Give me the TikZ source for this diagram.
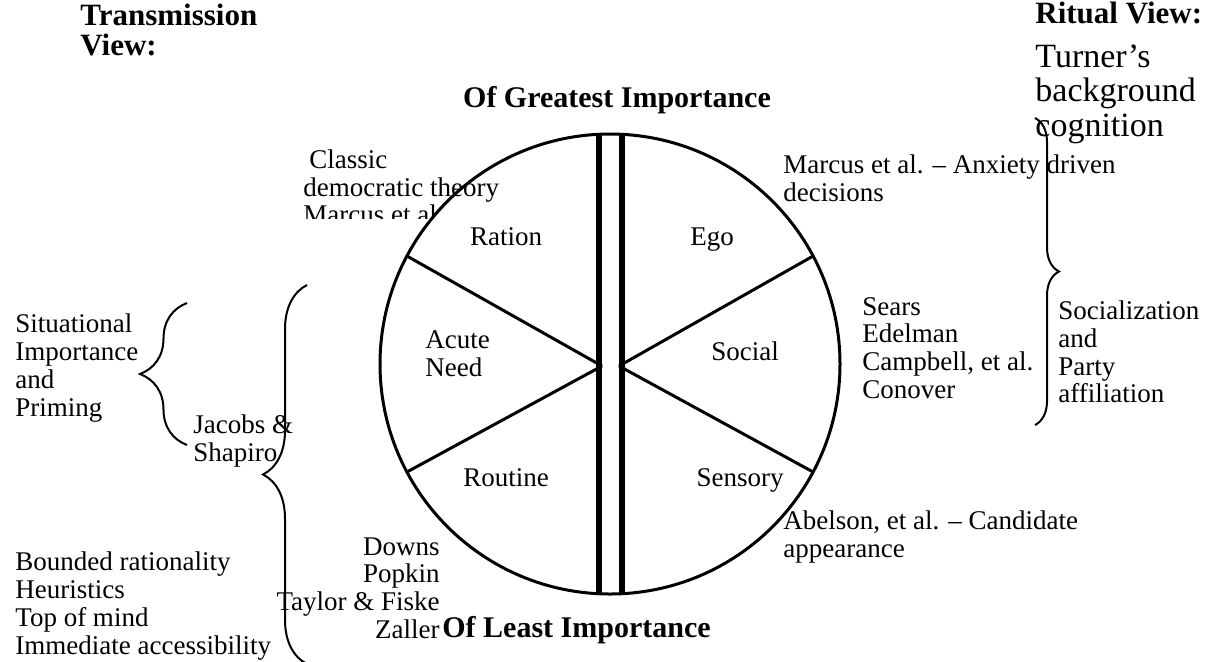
\documentclass[tikz,border=0pt]{standalone}
\usepackage{fontspec}
\setmainfont{Liberation Serif}
\usetikzlibrary{decorations.pathreplacing}
\tikzstyle{txt}=[inner sep=0pt,align=left,font=\fontsize{13.5}{13.9}\selectfont]
\tikzstyle{rtxt}=[inner sep=0pt,align=right,font=\fontsize{13.5}{13.9}\selectfont]
\tikzstyle{head}=[inner sep=0pt,align=left,font=\bfseries\fontsize{15.5}{15}\selectfont]
\tikzstyle{pole}=[inner sep=0pt,font=\bfseries\fontsize{15}{15}\selectfont]
\tikzstyle{bigtxt}=[inner sep=0pt,align=left,font=\fontsize{17}{17.3}\selectfont]
\tikzstyle{pie}=[circle,draw=black,line width=1.5pt,inner sep=0pt,outer sep=0pt,
  minimum size=230pt]
\tikzstyle{bar}=[line width=3.2pt]
\tikzstyle{spoke}=[line width=1.5pt]
\tikzstyle{brc}=[decorate,line width=1pt]
\tikzstyle{none}=[]

\begin{document}
\begin{tikzpicture}[x=0.5pt, y=-0.5pt]
            \useasboundingbox (0, 0) rectangle (1229, 661);
            \node [style=pie] (0) at (610, 364) {};
            \coordinate (1) at (599, 134);
            \coordinate (2) at (599, 594);
            \coordinate (3) at (622, 134);
            \coordinate (4) at (622, 594);
            \coordinate (5) at (602, 366);
            \coordinate (6) at (619, 366);
            \draw [style=bar] (1) to (2);
            \draw [style=bar] (3) to (4);
            \draw [style=spoke] (5) to (0.152);
            \draw [style=spoke] (5) to (0.208);
            \draw [style=spoke] (6) to (0.28);
            \draw [style=spoke] (6) to (0.332);
            % braces
            \coordinate (7) at (187, 445);
            \coordinate (8) at (187, 303);
            \coordinate (9) at (307, 664);
            \coordinate (10) at (307, 285);
            \coordinate (11) at (1035, 118);
            \coordinate (12) at (1035, 425);
            \draw [style=brc, decoration={brace, amplitude=23.5pt}] (7) to (8);
            \draw [style=brc, decoration={brace, amplitude=22pt}] (9) to (10);
            \draw [style=brc, decoration={brace, amplitude=12pt}] (11) to (12);
            % labels
            \node [style=head, anchor=west] (13) at (80, 30) {Transmission\\View:};
            \node [style=head, anchor=west] (14) at (1035, 13) {Ritual View:};
            \node [style=bigtxt, anchor=west] (15) at (1035, 94) {Turner’s\\background\\cognition};
            \node [style=pole] (16) at (617, 100) {Of Greatest Importance};
            \begin{scope}
                \clip (290, 140) rectangle (520, 218);
                \node [style=txt, anchor=west] (17) at (303, 187) {\hspace*{3pt}Classic\\democratic theory\\Marcus et al.};
            \end{scope}
            \node [style=txt, anchor=base] (18) at (506, 245) {Ration};
            \node [style=txt, anchor=base] (19) at (712, 245) {Ego};
            \node [style=txt, anchor=west] (20) at (425, 354) {Acute\\Need};
            \node [style=txt, anchor=base] (21) at (745, 360) {Social};
            \node [style=txt, anchor=base] (22) at (506, 486) {Routine};
            \node [style=txt, anchor=base] (23) at (740, 486) {Sensory};
            \node [style=txt, anchor=west] (24) at (783, 178) {Marcus et al. – Anxiety driven\\decisions};
            \node [style=txt, anchor=west] (25) at (862, 348) {Sears\\Edelman\\Campbell, et al.\\Conover};
            \node [style=txt, anchor=west] (26) at (1058, 352) {Socialization\\and\\Party\\affiliation};
            \node [style=txt, anchor=west] (27) at (15, 368) {Situational\\Importance\\and\\Priming};
            \node [style=txt, anchor=west] (28) at (193, 441) {Jacobs \&\\Shapiro};
            \node [style=txt, anchor=west] (29) at (783, 537) {Abelson, et al. – Candidate\\appearance};
            \node [style=txt, anchor=west] (30) at (15, 606) {Bounded rationality\\Heuristics\\Top of mind\\Immediate accessibility};
            \node [style=rtxt, anchor=east] (31) at (440, 588) {Downs\\Popkin\\Taylor \& Fiske\\Zaller};
            \node [style=pole, anchor=west] (32) at (442, 630) {Of Least Importance};
    \end{tikzpicture}
\end{document}
